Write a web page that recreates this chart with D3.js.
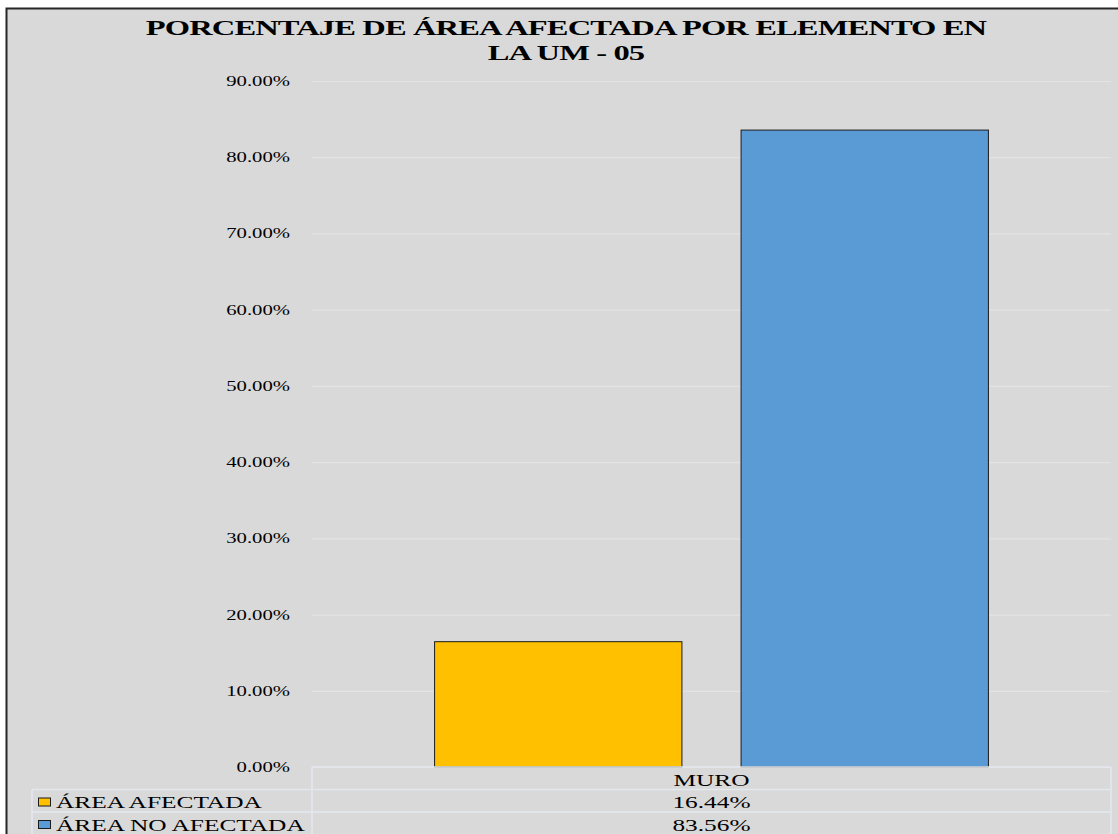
<!DOCTYPE html>
<html>
<head>
<meta charset="utf-8">
<script src="https://cdn.jsdelivr.net/npm/d3@7"></script>
<style>
  body { margin: 0; background: #fff; }
  text { font-family: "Liberation Serif", "Times New Roman", serif; fill: #000; }
</style>
</head>
<body>
<div id="graph"></div>
<script>
// data
const categories = ["MURO"];
const seriesNames = ["ÁREA AFECTADA", "ÁREA NO AFECTADA"];
const seriesColors = ["#ffc000", "#5b9bd5"];
const seriesValues = [[0.1644], [0.8356]];
const yTicks = [0, 0.1, 0.2, 0.3, 0.4, 0.5, 0.6, 0.7, 0.8, 0.9];
const titleLines = ["PORCENTAJE DE ÁREA AFECTADA POR ELEMENTO EN", "LA UM - 05"];

const width = 1118,
    height = 834,
    plotLeft = 312,
    plotRight = 1111,
    plotTop = 81,
    plotBottom = 767,
    tableLeft = 32,
    rowH = 22.5,
    sx = 1.38; // text in the picture is stretched sideways

const svg = d3.select("#graph")
    .append("svg")
    .attr("width", width)
    .attr("height", height);

// chart area + frame
svg.append("rect")
    .attr("x", 6.5).attr("y", 8.5)
    .attr("width", 1140).attr("height", 860)
    .attr("fill", "#d9d9d9")
    .attr("stroke", "#262626")
    .attr("stroke-width", 2);

// helper: stretched text
function stext(g, x, y, str, size, anchor, weight, scale) {
  return g.append("text")
      .attr("transform", "translate(" + x + "," + y + ") scale(" + (scale || sx) + ",1)")
      .attr("text-anchor", anchor)
      .attr("font-size", size)
      .attr("font-weight", weight || "normal")
      .text(str);
}

// title
titleLines.forEach(function (t, i) {
  stext(svg, 566, 35 + i * 25, t, 22, "middle", "bold", 1.48)
      .attr("letter-spacing", -0.6);
});

const y = d3.scaleLinear().domain([0, 0.9]).range([plotBottom, plotTop]);
const x = d3.scaleBand().domain(categories).range([plotLeft, plotRight]);
const xs = d3.scaleBand().domain(d3.range(seriesNames.length))
    .range([0, x.bandwidth()])
    .paddingInner(0.193)
    .paddingOuter(0.4);

// gridlines
const yAxis = d3.axisLeft(y).tickValues(yTicks)
    .tickSize(-(plotRight - plotLeft)).tickFormat("");
const grid = svg.append("g")
    .attr("transform", "translate(" + plotLeft + ",0)")
    .call(yAxis);
grid.select(".domain").remove();
grid.selectAll(".tick line").attr("stroke", "#e3e3e3").attr("stroke-width", 1.2);

// tick labels
const fmt = d3.format(".2%");
yTicks.forEach(function (v) {
  stext(svg, 290, y(v) + 5, fmt(v), 15, "end");
});

// bars
categories.forEach(function (c, ci) {
  svg.append("g").selectAll("rect")
    .data(seriesNames)
    .enter()
    .append("rect")
    .attr("x", function (d, i) { return x(c) + xs(i); })
    .attr("width", xs.bandwidth())
    .attr("y", function (d, i) { return y(seriesValues[i][ci]); })
    .attr("height", function (d, i) { return plotBottom - y(seriesValues[i][ci]); })
    .attr("fill", function (d, i) { return seriesColors[i]; })
    .attr("stroke", "#1a1a1a")
    .attr("stroke-width", 1);
});

// data table
const tbl = svg.append("g");
const lineCol = "#e3e8ee";
const rows = seriesNames.length + 1;
// horizontal lines
tbl.append("line").attr("x1", plotLeft).attr("x2", plotRight)
    .attr("y1", plotBottom).attr("y2", plotBottom).attr("stroke", lineCol).attr("stroke-width", 1.5);
for (let r = 1; r <= rows; r++) {
  tbl.append("line").attr("x1", tableLeft).attr("x2", plotRight)
      .attr("y1", plotBottom + r * rowH).attr("y2", plotBottom + r * rowH)
      .attr("stroke", lineCol).attr("stroke-width", 1.5);
}
// vertical lines
tbl.append("line").attr("x1", tableLeft).attr("x2", tableLeft)
    .attr("y1", plotBottom + rowH).attr("y2", height)
    .attr("stroke", lineCol).attr("stroke-width", 1.5);
[plotLeft, plotRight].forEach(function (vx) {
  tbl.append("line").attr("x1", vx).attr("x2", vx)
      .attr("y1", plotBottom).attr("y2", height)
      .attr("stroke", lineCol).attr("stroke-width", 1.5);
});

// header
const tsize = 17.5, tsx = 1.45;
categories.forEach(function (c) {
  stext(tbl, x(c) + x.bandwidth() / 2, plotBottom + rowH - 4, c, tsize, "middle", "normal", tsx);
});
// rows
seriesNames.forEach(function (s, i) {
  const yy = plotBottom + (i + 1) * rowH;
  tbl.append("rect")
      .attr("x", 38.5).attr("y", yy + 8.5)
      .attr("width", 12).attr("height", 8)
      .attr("fill", seriesColors[i])
      .attr("stroke", "#1a1a1a").attr("stroke-width", 1);
  stext(tbl, 56, yy + rowH - 4, s, tsize, "start", "normal", tsx);
  categories.forEach(function (c, ci) {
    stext(tbl, x(c) + x.bandwidth() / 2, yy + rowH - 4, fmt(seriesValues[i][ci]), tsize, "middle", "normal", tsx);
  });
});
</script>
</body>
</html>
